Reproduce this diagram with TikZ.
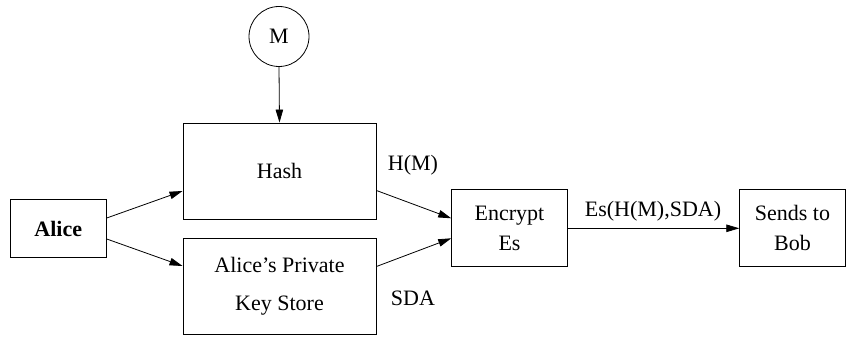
\documentclass[tikz,border=0pt]{standalone}
\usepackage{fontspec}
\setmainfont{Liberation Serif}
\usetikzlibrary{arrows.meta}
\begin{document}
\begin{tikzpicture}[x=1pt,y=-1pt,
  every node/.style={font=\fontsize{22}{30}\selectfont},
  blk/.style={draw, line width=0.9pt, inner sep=0pt, align=center},
  lbl/.style={inner sep=0pt},
  conn/.style={line width=0.8pt, -{Triangle[length=13pt,width=7.5pt]}}]
\useasboundingbox (0,0) rectangle (846,339);
\node[draw, circle, line width=0.8pt, minimum size=60pt, inner sep=0pt] (m) at (279,36.5) {M};
\node[blk, minimum width=193pt, minimum height=96pt] (hash) at (279.5,171) {Hash};
\node[blk, minimum width=193pt, minimum height=96pt] (key) at (279.5,286) {Alice's Private\\[8pt]Key Store};
\node[blk, minimum width=96pt, minimum height=57.6pt] (alice) at (58.3,228.5) {\textbf{Alice}};
\node[blk, minimum width=115.6pt, minimum height=76.7pt] (enc) at (509.5,228.3) {Encrypt\\Es};
\node[blk, minimum width=105.5pt, minimum height=76.7pt] (bob) at (792.5,228.3) {Sends to\\Bob};
\node[lbl] (hm) at (413,165) {H(M)};
\node[lbl] (sda) at (413,298) {SDA};
\node[lbl] (es) at (653,211.7) {Es(H(M),SDA)};
\draw[conn] (m.south) -- (hash.north);
\draw[conn] ([yshift=10.5pt]alice.east) -- ([yshift=-20pt]hash.west);
\draw[conn] ([yshift=-10.5pt]alice.east) -- ([yshift=20pt]key.west);
\draw[conn] ([yshift=-19.5pt]hash.east) -- ([yshift=10pt]enc.west);
\draw[conn] ([yshift=19.5pt]key.east) -- ([yshift=-10pt]enc.west);
\draw[conn] (enc.east) -- (bob.west);
\end{tikzpicture}
\end{document}
